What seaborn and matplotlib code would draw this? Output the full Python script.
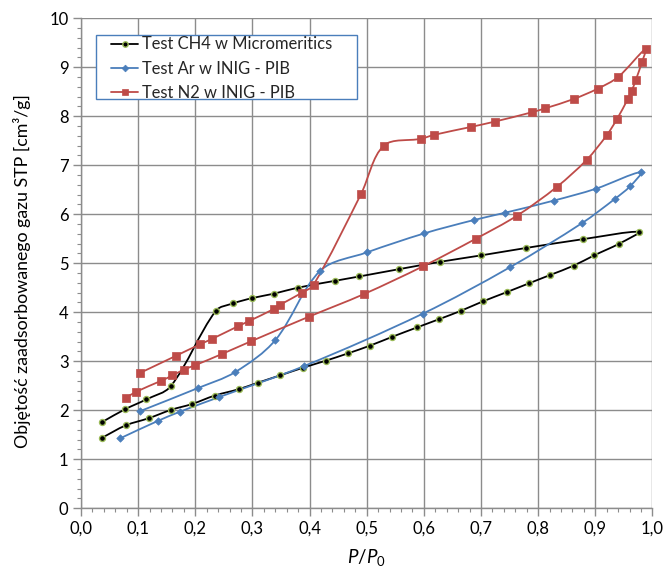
import numpy as np
import pandas as pd
import matplotlib
matplotlib.use("Agg")
import matplotlib.pyplot as plt
import seaborn as sns
from matplotlib.path import Path
from matplotlib.patches import PathPatch, Rectangle
from matplotlib.lines import Line2D
from matplotlib.ticker import MultipleLocator

# ---------------- data ----------------
ch4_x = [0.037, 0.078, 0.119, 0.158, 0.195, 0.234, 0.276, 0.309, 0.348, 0.389, 0.428,
         0.467, 0.506, 0.545, 0.588, 0.627, 0.665, 0.703, 0.745, 0.784, 0.821, 0.862,
         0.898, 0.942, 0.976,
         0.878, 0.778, 0.700, 0.629, 0.557, 0.487, 0.444, 0.379, 0.338, 0.300, 0.266,
         0.236, 0.157, 0.114, 0.077, 0.037]
ch4_y = [1.44, 1.69, 1.84, 2.01, 2.13, 2.30, 2.43, 2.56, 2.71, 2.87, 3.01,
         3.16, 3.32, 3.50, 3.69, 3.86, 4.03, 4.22, 4.41, 4.59, 4.76, 4.95,
         5.16, 5.40, 5.64,
         5.49, 5.31, 5.16, 5.03, 4.88, 4.73, 4.64, 4.50, 4.38, 4.29, 4.18,
         4.03, 2.49, 2.22, 2.02, 1.76]

ar_x = [0.069, 0.134, 0.173, 0.242, 0.390, 0.598, 0.751, 0.877, 0.934, 0.961, 0.980,
        0.901, 0.828, 0.742, 0.687, 0.601, 0.500, 0.419, 0.340, 0.270, 0.204, 0.103]
ar_y = [1.43, 1.78, 1.97, 2.27, 2.90, 3.97, 4.92, 5.82, 6.31, 6.57, 6.86,
        6.52, 6.28, 6.03, 5.88, 5.61, 5.22, 4.85, 3.43, 2.78, 2.45, 1.98]

n2_x = [0.078, 0.097, 0.140, 0.160, 0.180, 0.200, 0.247, 0.298, 0.399, 0.495, 0.599,
        0.691, 0.763, 0.833, 0.885, 0.920, 0.938, 0.957, 0.964, 0.971, 0.982, 0.988,
        0.940, 0.904, 0.862, 0.812, 0.789, 0.724, 0.682, 0.618, 0.595, 0.530, 0.490,
        0.407, 0.387, 0.348, 0.338, 0.294, 0.274, 0.230, 0.209, 0.166, 0.103]
n2_y = [2.25, 2.38, 2.60, 2.71, 2.83, 2.92, 3.15, 3.41, 3.91, 4.37, 4.94,
        5.50, 5.97, 6.56, 7.11, 7.61, 7.94, 8.35, 8.52, 8.74, 9.11, 9.37,
        8.80, 8.56, 8.35, 8.16, 8.08, 7.89, 7.78, 7.62, 7.54, 7.40, 6.41,
        4.56, 4.40, 4.15, 4.07, 3.82, 3.71, 3.46, 3.35, 3.11, 2.76]

series_names = ["Test CH4 w Micromeritics", "Test Ar w INIG - PIB", "Test N2 w INIG - PIB"]
x_ticklabels = ["0,0", "0,1", "0,2", "0,3", "0,4", "0,5", "0,6", "0,7", "0,8", "0,9", "1,0"]
y_ticklabels = ["0", "1", "2", "3", "4", "5", "6", "7", "8", "9", "10"]

# ---------------- style ----------------
sns.set_theme(style="white")
FONT = ["Lato", "Open Sans", "DejaVu Sans"]
plt.rcParams["font.family"] = FONT
plt.rcParams["mathtext.fontset"] = "custom"
plt.rcParams["mathtext.rm"] = "Lato"
plt.rcParams["mathtext.it"] = "Lato:italic"

GRID = "#8c8c8c"
BLUE = "#4A7EBB"
RED = "#BE4B48"
GREEN_EDGE = "#9BBB59"

fig = plt.figure(figsize=(6.65, 5.69), dpi=100)
ax = fig.add_axes([0.1218, 0.1067, 0.8592, 0.8613])

# approximate pixel scale per data unit (for chord lengths of the smoothing)
SX, SY = 571.0, 49.0


def smooth_path(xs, ys):
    """Excel-like smoothed line: cubic Bezier segments through the data points,
    tangents split in proportion to neighbouring chord lengths."""
    p = np.column_stack([xs, ys]).astype(float)
    n = len(p)
    scale = np.array([SX, SY])

    def dist(a, b):
        return float(np.hypot(*((a - b) * scale)))

    verts = [p[0]]
    codes = [Path.MOVETO]
    for i in range(n - 1):
        p1, p2 = p[i], p[i + 1]
        d12 = dist(p1, p2)
        if i > 0:
            p0 = p[i - 1]
            d01 = dist(p0, p1)
            c1 = p1 + (p2 - p0) * (d12 / (d01 + d12)) / 3.0
        else:
            c1 = p1 + (p2 - p1) / 3.0
        if i + 2 < n:
            p3 = p[i + 2]
            d23 = dist(p2, p3)
            c2 = p2 - (p3 - p1) * (d12 / (d12 + d23)) / 3.0
        else:
            c2 = p2 - (p2 - p1) / 3.0
        verts += [c1, c2, p2]
        codes += [Path.CURVE4] * 3
    return Path(verts, codes)


specs = [
    (ch4_x, ch4_y, series_names[0], "black", "o", 4.3, "black", GREEN_EDGE, 1.0),
    (ar_x, ar_y, series_names[1], BLUE, "D", 3.8, BLUE, BLUE, 0.5),
    (n2_x, n2_y, series_names[2], RED, "s", 5.3, RED, RED, 0.5),
]

for xs, ys, name, lc, mk, ms, fc, ec, mew in specs:
    patch = PathPatch(smooth_path(xs, ys), facecolor="none", edgecolor=lc,
                      lw=1.3, transform=ax.transData, zorder=3)
    ax.add_patch(patch)
    df = pd.DataFrame({"x": xs, "y": ys})
    sns.scatterplot(data=df, x="x", y="y", ax=ax, marker=mk, s=ms ** 2,
                    color=fc, edgecolor=ec, linewidth=mew, zorder=4, legend=False)

# ---------------- axes ----------------
ax.set_xlim(0, 1.0)
ax.set_ylim(0, 10)
ax.set_xticks(np.arange(0, 1.0001, 0.1))
ax.set_xticklabels(x_ticklabels)
ax.set_yticks(np.arange(0, 10.001, 1))
ax.set_yticklabels(y_ticklabels)
ax.xaxis.set_minor_locator(MultipleLocator(0.02))
ax.yaxis.set_minor_locator(MultipleLocator(0.2))

ax.grid(True, which="major", color=GRID, lw=1.0)
ax.set_axisbelow(True)
for side in ["top", "right"]:
    ax.spines[side].set_visible(False)
for side in ["left", "bottom"]:
    ax.spines[side].set_color(GRID)
    ax.spines[side].set_linewidth(1.0)

ax.tick_params(axis="both", which="major", direction="out", length=6, width=1.0,
               color=GRID, labelsize=12, labelcolor="black", pad=3,
               bottom=True, left=True)
ax.tick_params(axis="both", which="minor", direction="out", length=3, width=0.8,
               color=GRID, bottom=True, left=True)

ax.set_xlabel(r"$P/P_{\mathrm{0}}$", fontsize=13.5, labelpad=7, color="black")
ax.set_ylabel("Objętość zaadsorbowanego gazu STP [cm³/g]", fontsize=12.8,
              color="black")
ax.yaxis.set_label_coords(-0.088, 0.485)

# ---------------- legend ----------------
handles = []
for xs, ys, name, lc, mk, ms, fc, ec, mew in specs:
    handles.append(Line2D([], [], color=lc, lw=1.3, marker=mk, markersize=ms * 0.9,
                          markerfacecolor=fc, markeredgecolor=ec, markeredgewidth=mew))
leg = ax.legend(handles, series_names, loc="upper left",
                bbox_to_anchor=(0.053, 0.963), borderaxespad=0, frameon=False,
                fontsize=11.9, handlelength=1.6, handletextpad=0.25,
                labelspacing=0.5, borderpad=0.0)
leg.set_zorder(6)
frame = Rectangle((0.0263, 0.835), 0.4567, 0.131, transform=ax.transAxes,
                  facecolor="white", edgecolor=BLUE, lw=1.0, zorder=5)
ax.add_patch(frame)

fig.savefig("out.png", dpi=100)
